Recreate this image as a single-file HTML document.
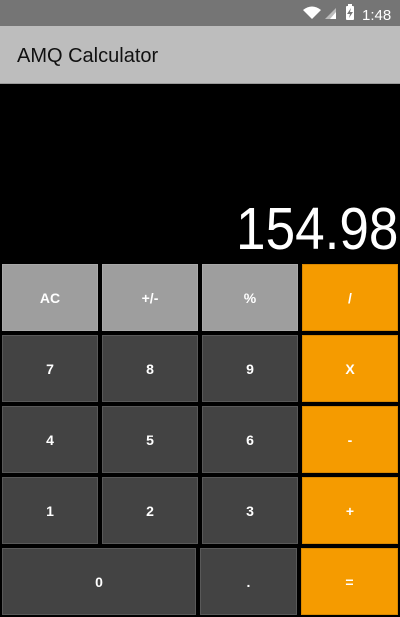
<!DOCTYPE html>
<html><head><meta charset="utf-8"><style>
*{margin:0;padding:0;box-sizing:border-box}
body{width:400px;height:617px;background:#000;font-family:"Liberation Sans",sans-serif;position:relative;overflow:hidden}
#status{position:absolute;left:0;top:0;width:400px;height:26px;background:#757575;color:#fff}
#appbar{position:absolute;left:0;top:26px;width:400px;height:58px;background:#bdbdbd;border-bottom:1px solid #9a9a9a}
#title{position:absolute;left:17px;top:19px;font-size:20px;color:#111}
#display{position:absolute;right:2px;top:193px;font-size:59px;color:#fff;transform:scaleX(0.9);transform-origin:right center;line-height:72px}
.b{position:absolute;display:flex;align-items:center;justify-content:center;color:#fff;font-weight:bold;font-size:14px;border:1px solid rgba(255,255,255,0.12)}
.g{background:#9e9e9e}.d{background:#434343}.o{background:#f59b00;border-color:#d98800}
</style></head><body>
<div id="status">
<svg width="400" height="26">
<path d="M303 10 Q312 3 321 10 L312 19 Z" fill="#fff"/>
<path d="M336 8 L336 19 L325 19 Z" fill="#bbb"/><path d="M336 12 L336 19 L330 19 Z" fill="#fff"/>
<rect x="346" y="6" width="8" height="14" rx="1" fill="#fff"/><rect x="348" y="4" width="4" height="2" fill="#fff"/>
<path d="M351 8 L347 14 L350 14 L349 18 L353 12 L350 12 Z" fill="#757575"/>
<text x="362" y="20" fill="#fff" font-size="15" font-family="Liberation Sans">1:48</text>
</svg></div>
<div id="appbar"><div id="title">AMQ Calculator</div></div>
<div id="display">154.98</div>
<div class="b g" style="left:2px;top:264px;width:96px;height:67px">AC</div>
<div class="b g" style="left:102px;top:264px;width:96px;height:67px">+/-</div>
<div class="b g" style="left:202px;top:264px;width:96px;height:67px">%</div>
<div class="b o" style="left:302px;top:264px;width:96px;height:67px">/</div>
<div class="b d" style="left:2px;top:335px;width:96px;height:67px">7</div>
<div class="b d" style="left:102px;top:335px;width:96px;height:67px">8</div>
<div class="b d" style="left:202px;top:335px;width:96px;height:67px">9</div>
<div class="b o" style="left:302px;top:335px;width:96px;height:67px">X</div>
<div class="b d" style="left:2px;top:406px;width:96px;height:67px">4</div>
<div class="b d" style="left:102px;top:406px;width:96px;height:67px">5</div>
<div class="b d" style="left:202px;top:406px;width:96px;height:67px">6</div>
<div class="b o" style="left:302px;top:406px;width:96px;height:67px">-</div>
<div class="b d" style="left:2px;top:477px;width:96px;height:67px">1</div>
<div class="b d" style="left:102px;top:477px;width:96px;height:67px">2</div>
<div class="b d" style="left:202px;top:477px;width:96px;height:67px">3</div>
<div class="b o" style="left:302px;top:477px;width:96px;height:67px">+</div>
<div class="b d" style="left:2px;top:548px;width:194px;height:67px">0</div>
<div class="b d" style="left:200px;top:548px;width:97px;height:67px">.</div>
<div class="b o" style="left:301px;top:548px;width:97px;height:67px">=</div>
</body></html>
